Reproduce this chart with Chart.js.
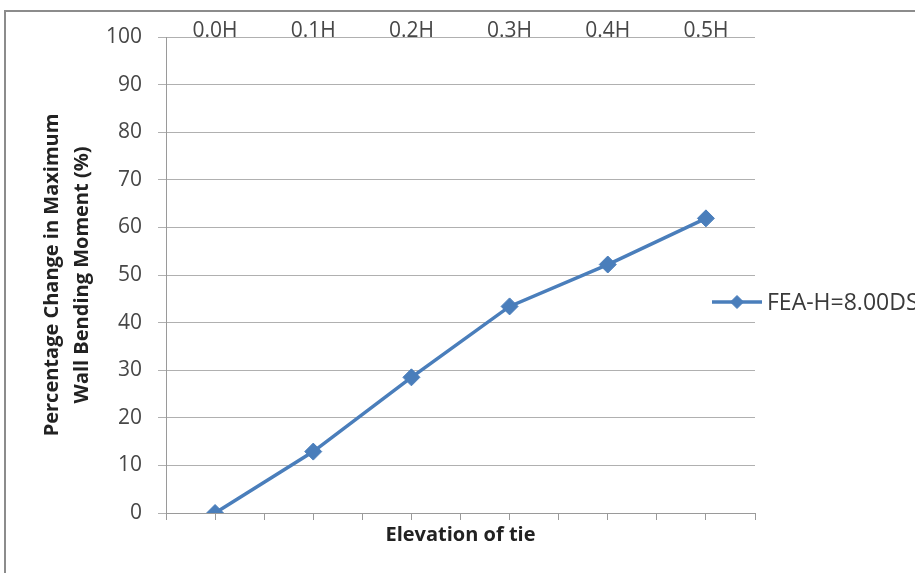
<!DOCTYPE html>
<html>
<head>
<meta charset="utf-8">
<script src="https://cdn.jsdelivr.net/npm/chart.js@4/dist/chart.umd.min.js"></script>
<style>
  html, body { margin: 0; padding: 0; background: #fff; }
  #wrap { width: 915px; height: 573px; position: relative; }
</style>
</head>
<body>
<div id="wrap"><canvas id="c" width="915" height="573"></canvas></div>
<script>
// Tie elevation categories and the change in maximum wall bending moment (%)
const tieElevations = ['0.0H', '0.1H', '0.2H', '0.3H', '0.4H', '0.5H'];
const momentChange = [0, 12.9, 28.5, 43.4, 52.2, 61.9];
const seriesName = 'FEA-H=8.00DS';
const yTitleLines = ['Percentage Change in Maximum', 'Wall Bending Moment (%)'];
const xTitleText = 'Elevation of tie';
// half-category slots used only for the bottom axis tick marks
const bottomSlots = Array(12).fill('');

const FONT = "'Open Sans', 'Liberation Sans', sans-serif";
const LINE_BLUE = '#4a7ebb';
const GRID = '#b0b0b0';
const AXIS = '#9a9a9a';
const TICK_TEXT = '#474747';

// outer frame of the chart object
const framePlugin = {
  id: 'frame',
  beforeDraw(chart) {
    const ctx = chart.ctx;
    ctx.save();
    ctx.strokeStyle = '#8c8c8c';
    ctx.lineWidth = 2;
    ctx.beginPath();
    ctx.moveTo(5, chart.height);
    ctx.lineTo(5, 11);
    ctx.lineTo(chart.width, 11);
    ctx.stroke();
    ctx.restore();
  }
};

// line-and-marker legend entry placed to the right of the plot
const sideLegend = {
  id: 'sideLegend',
  afterDraw(chart) {
    const ctx = chart.ctx;
    const ds = chart.data.datasets[0];
    const x0 = chart.chartArea.right - 43;
    const y = 302;
    ctx.save();
    ctx.strokeStyle = ds.borderColor;
    ctx.lineWidth = ds.borderWidth;
    ctx.beginPath();
    ctx.moveTo(x0, y);
    ctx.lineTo(x0 + 50, y);
    ctx.stroke();
    ctx.fillStyle = ds.pointBackgroundColor;
    ctx.strokeStyle = ds.pointBorderColor;
    ctx.lineWidth = 1;
    Chart.helpers.drawPoint(ctx, {
      pointStyle: ds.pointStyle, radius: 6.5, rotation: 0, borderWidth: 1
    }, x0 + 25, y);
    ctx.fillStyle = '#3a3a3a';
    ctx.font = '23px ' + FONT;
    ctx.textBaseline = 'middle';
    ctx.textAlign = 'left';
    ctx.fillText(ds.label, x0 + 55, y + 1);
    ctx.restore();
  }
};

new Chart(document.getElementById('c'), {
  type: 'line',
  data: {
    labels: tieElevations,
    datasets: [{
      label: seriesName,
      data: momentChange,
      xAxisID: 'x',
      yAxisID: 'y',
      borderColor: LINE_BLUE,
      backgroundColor: LINE_BLUE,
      borderWidth: 3.5,
      pointStyle: 'rectRot',
      pointRadius: 8.5,
      pointHoverRadius: 8.5,
      pointBackgroundColor: LINE_BLUE,
      pointBorderColor: LINE_BLUE,
      pointBorderWidth: 1,
      tension: 0,
      fill: false
    }]
  },
  options: {
    responsive: false,
    animation: false,
    devicePixelRatio: 1,
    layout: { padding: { left: 0, top: 0, right: 160, bottom: 0 } },
    plugins: {
      legend: { display: false },
      tooltip: { enabled: false }
    },
    scales: {
      x: {
        type: 'category',
        position: 'top',
        offset: true,
        grid: { display: false, drawTicks: false },
        border: { display: false },
        ticks: {
          color: TICK_TEXT,
          font: { family: FONT, size: 21, lineHeight: 1 },
          padding: -5,
          maxRotation: 0
        },
        afterFit(scale) { scale.height = 37; }
      },
      x2: {
        type: 'category',
        position: 'bottom',
        labels: bottomSlots,
        offset: true,
        grid: {
          offset: true,
          drawOnChartArea: false,
          drawTicks: true,
          tickLength: 7,
          color: AXIS,
          lineWidth: 1
        },
        border: { display: true, color: AXIS, width: 1 },
        ticks: { display: false },
        title: {
          display: true,
          text: xTitleText,
          color: '#222222',
          font: { family: FONT, size: 20, weight: 'bold', lineHeight: 1.2 },
          padding: { top: 4, bottom: 26 }
        },
        afterFit(scale) { scale.height = 60; }
      },
      y: {
        min: 0,
        max: 100,
        position: 'left',
        ticks: {
          stepSize: 10,
          color: TICK_TEXT,
          font: { family: FONT, size: 21 },
          padding: 16
        },
        grid: {
          color: GRID,
          lineWidth: 1,
          drawTicks: true,
          tickLength: 8
        },
        border: { display: true, color: AXIS, width: 1 },
        title: {
          display: true,
          text: yTitleLines,
          color: '#222222',
          font: { family: FONT, size: 20, weight: 'bold', lineHeight: 1.5 },
          padding: { top: 37, bottom: 0 }
        },
        afterFit(scale) { scale.width = 166; }
      }
    }
  },
  plugins: [framePlugin, sideLegend]
});
</script>
</body>
</html>
